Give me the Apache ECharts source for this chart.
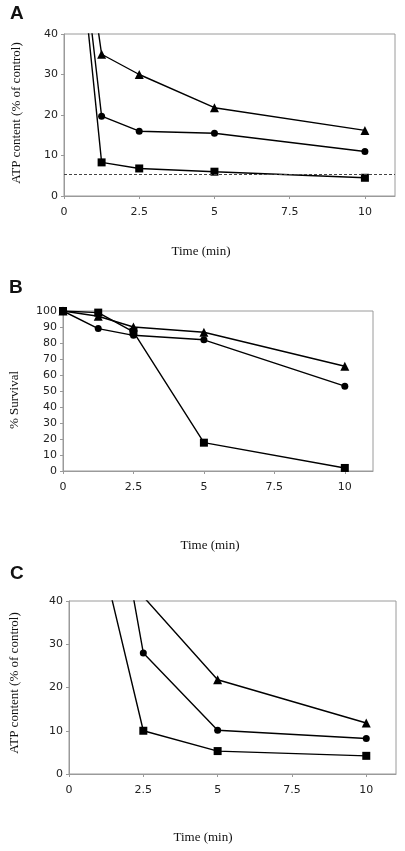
<!DOCTYPE html>
<html>
<head>
<meta charset="utf-8">
<script src="https://cdn.jsdelivr.net/npm/echarts@6/dist/echarts.min.js"></script>
<style>
html,body{margin:0;padding:0;background:#fff;}
#chart{width:405px;height:851px;}
</style>
</head>
<body>
<div id="chart"></div>
<script>
// ---- Data ----
const xTicks = [0, 2.5, 5, 7.5, 10];
const timesA = [0, 1.25, 2.5, 5, 10];
const aTriangle = [100, 35, 30, 21.8, 16.2];
const aCircle = [100, 19.7, 16, 15.5, 11];
const aSquare = [100, 8.3, 6.8, 6, 4.5];
const aBaseline = 5.4;

const timesB = [0, 1.25, 2.5, 5, 10];
const bTriangle = [100, 96.7, 90, 86.7, 65.5];
const bCircle = [100, 89, 84.8, 82, 53];
const bSquare = [100, 99, 87, 17.7, 1.9];

const timesC = [0, 1.25, 2.5, 5, 10];
const cTriangle = [100, 70, 41, 21.8, 11.8];
const cCircle = [100, 76, 28, 10.1, 8.2];
const cSquare = [100, 46, 10, 5.3, 4.2];

const labelsA = { title: 'A', yName: 'ATP content (% of control)', xName: 'Time (min)' };
const labelsB = { title: 'B', yName: '% Survival', xName: 'Time (min)' };
const labelsC = { title: 'C', yName: 'ATP content (% of control)', xName: 'Time (min)' };

// ---- Build ----
const pairs = (xs, ys) => xs.map((x, i) => [x, ys[i]]);
const grids = [
  { left: 64, top: 34, width: 331, height: 162 },
  { left: 63, top: 311, width: 310, height: 160 },
  { left: 69, top: 601, width: 327, height: 173 }
].map(g => Object.assign(g, { show: true, borderColor: '#9a9a9a', borderWidth: 1, backgroundColor: 'transparent' }));

const tickFont = 'Verdana, "DejaVu Sans", sans-serif';
function xAxisFor(i) {
  return {
    type: 'value', gridIndex: i, min: 0, max: 11, interval: 2.5,
    axisLine: { show: true, lineStyle: { color: '#9a9a9a', width: 1 } },
    axisTick: { show: true, length: 3, lineStyle: { color: '#9a9a9a' }, customValues: xTicks },
    axisLabel: { customValues: xTicks, margin: 11, fontFamily: tickFont, fontSize: 11, color: '#222' },
    splitLine: { show: false }
  };
}
function yAxisFor(i, max, interval) {
  return {
    type: 'value', gridIndex: i, min: 0, max: max, interval: interval,
    axisLine: { show: true, lineStyle: { color: '#9a9a9a', width: 1 } },
    axisTick: { show: true, length: 3, lineStyle: { color: '#9a9a9a' } },
    axisLabel: { margin: 6, fontFamily: tickFont, fontSize: 11, color: '#222' },
    splitLine: { show: false }
  };
}
const symbolDefs = [
  { symbol: 'triangle', size: 9 },
  { symbol: 'circle', size: 7 },
  { symbol: 'rect', size: 8 }
];
function seriesFor(i, times, arrs) {
  return arrs.map((arr, k) => ({
    type: 'line', xAxisIndex: i, yAxisIndex: i,
    data: pairs(times, arr),
    symbol: symbolDefs[k].symbol, symbolSize: symbolDefs[k].size,
    showAllSymbol: true, clip: true, animation: false,
    lineStyle: { color: '#000', width: 1.4 },
    itemStyle: { color: '#000' },
    z: 3
  }));
}

const series = [].concat(
  seriesFor(0, timesA, [aTriangle, aCircle, aSquare]),
  seriesFor(1, timesB, [bTriangle, bCircle, bSquare]),
  seriesFor(2, timesC, [cTriangle, cCircle, cSquare])
);
series[2].markLine = {
  silent: true, symbol: ['none', 'none'], label: { show: false },
  lineStyle: { color: '#444', type: [3, 2], width: 1 },
  data: [{ yAxis: aBaseline }]
};

function txt(text, x, y, opts) {
  return { type: 'text', x: x, y: y,
    style: Object.assign({ text: text, fill: '#111', font: '13px "Liberation Serif"', align: 'center', verticalAlign: 'middle' }, opts || {}) };
}
function vtxt(text, x, y) {
  return { type: 'text', x: x, y: y, rotation: Math.PI / 2,
    style: { text: text, fill: '#111', font: '13px "Liberation Serif"', align: 'center', verticalAlign: 'middle' } };
}
const boldLetter = { font: 'bold 19px "Liberation Sans"', align: 'left', verticalAlign: 'top' };
const graphics = [
  txt(labelsA.title, 10, 4, boldLetter),
  txt(labelsB.title, 9, 278, boldLetter),
  txt(labelsC.title, 10, 564, boldLetter),
  vtxt(labelsA.yName, 17, 113),
  vtxt(labelsB.yName, 15, 400),
  vtxt(labelsC.yName, 15, 683),
  txt(labelsA.xName, 201, 252),
  txt(labelsB.xName, 210, 546),
  txt(labelsC.xName, 203, 838)
];

const chart = echarts.init(document.getElementById('chart'), null, { renderer: 'canvas' });
chart.setOption({
  animation: false,
  backgroundColor: '#fff',
  grid: grids,
  xAxis: [xAxisFor(0), xAxisFor(1), xAxisFor(2)],
  yAxis: [yAxisFor(0, 40, 10), yAxisFor(1, 100, 10), yAxisFor(2, 40, 10)],
  series: series,
  graphic: graphics
});
</script>
</body>
</html>
